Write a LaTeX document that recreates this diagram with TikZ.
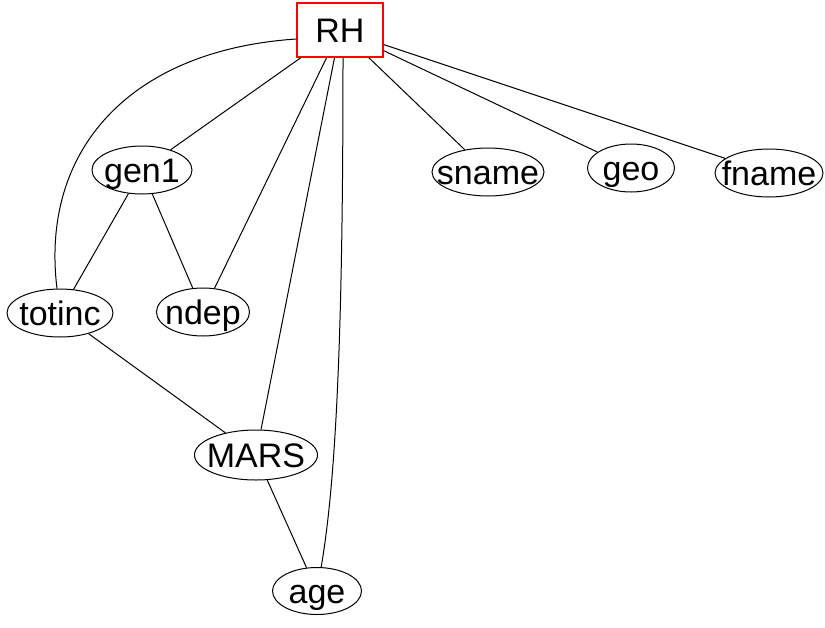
\documentclass[tikz,border=0pt]{standalone}
\usepackage{fontspec}
\setmainfont{Liberation Sans}
\usetikzlibrary{shapes.geometric}

\begin{document}
\begin{tikzpicture}[
		x=1pt, y=-1pt, line width=1pt,
		every node/.style={ellipse,draw,minimum height=48,inner xsep=-20pt,inner ysep=0pt,
			text height=28pt,text depth=3pt,font=\fontsize{34}{36}\selectfont},
		root/.style={rectangle,draw=red,line width=1.3pt,fill=white,minimum width=86,minimum height=54}]
		\useasboundingbox (0,0) rectangle (825,627);
		\node[root] (RH) at (340,30) {RH};
		\node[minimum width=100] (gen1) at (142,170) {gen1};
		\node[minimum width=112] (sname) at (488,172) {sname};
		\node[minimum width=87] (geo) at (631,168) {geo};
		\node[minimum width=108] (fname) at (769,173) {fname};
		\node[minimum width=106] (totinc) at (60,313) {totinc};
		\node[minimum width=93] (ndep) at (203,312) {ndep};
		\node[minimum width=123,minimum height=50] (MARS) at (256,455) {MARS};
		\node[minimum width=89,minimum height=47] (age) at (317,591) {age};


		\draw (RH) -- (gen1);
		\draw (RH) -- (ndep);
		\draw (RH) -- (MARS);
		\draw (RH) -- (sname);
		\draw (RH) -- (geo);
		\draw (RH) -- (fname);
		\draw ([yshift=-9pt]RH.west) .. controls (130,50) and (40,150) .. (totinc);
		\draw ([xshift=3pt]RH.south) .. controls (343,300) and (338,470) .. (age);
		\draw (gen1) -- (totinc);
		\draw (gen1) -- (ndep);
		\draw (totinc) -- (MARS);
		\draw (MARS) -- (age);
\end{tikzpicture}
\end{document}
